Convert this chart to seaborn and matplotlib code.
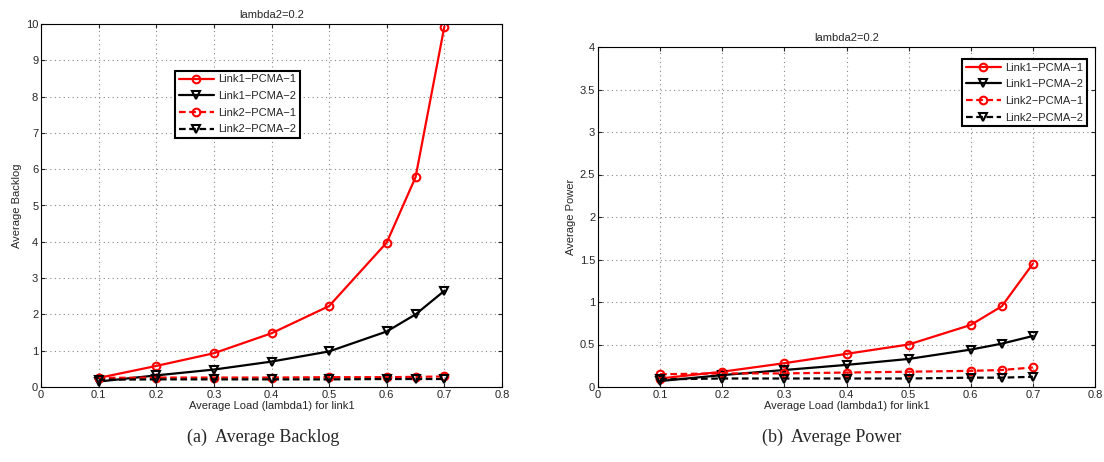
import numpy as np
import pandas as pd
import seaborn as sns
import matplotlib
matplotlib.use("Agg")
import matplotlib.pyplot as plt

# ---- data ----
load = [0.1, 0.2, 0.3, 0.4, 0.5, 0.6, 0.65, 0.7]
series_names = ["Link1\u2212PCMA\u22121", "Link1\u2212PCMA\u22122", "Link2\u2212PCMA\u22121", "Link2\u2212PCMA\u22122"]

backlog_l1_p1 = [0.25, 0.58, 0.93, 1.48, 2.23, 3.98, 5.78, 9.93]
backlog_l1_p2 = [0.15, 0.32, 0.48, 0.70, 0.98, 1.53, 2.00, 2.65]
backlog_l2_p1 = [0.25, 0.26, 0.26, 0.26, 0.27, 0.27, 0.28, 0.29]
backlog_l2_p2 = [0.20, 0.21, 0.21, 0.21, 0.21, 0.22, 0.22, 0.22]

power_l1_p1 = [0.10, 0.18, 0.28, 0.39, 0.50, 0.73, 0.95, 1.45]
power_l1_p2 = [0.07, 0.14, 0.20, 0.26, 0.33, 0.44, 0.51, 0.60]
power_l2_p1 = [0.15, 0.16, 0.16, 0.17, 0.18, 0.19, 0.20, 0.23]
power_l2_p2 = [0.09, 0.10, 0.10, 0.10, 0.10, 0.11, 0.11, 0.12]

xticks = [0, 0.1, 0.2, 0.3, 0.4, 0.5, 0.6, 0.7, 0.8]
xticklabels = ["0", "0.1", "0.2", "0.3", "0.4", "0.5", "0.6", "0.7", "0.8"]
yticks_a = list(range(0, 11))
yticks_b = [0, 0.5, 1, 1.5, 2, 2.5, 3, 3.5, 4]
yticklabels_b = ["0", "0.5", "1", "1.5", "2", "2.5", "3", "3.5", "4"]

sns.set_style("ticks")
plt.rcParams["font.family"] = ["Liberation Sans", "DejaVu Sans"]

styles = [
    dict(color="#ff0000", marker="o", linestyle="-"),
    dict(color="black", marker="v", linestyle="-"),
    dict(color="#ff0000", marker="o", linestyle=(0, (3, 1.6))),
    dict(color="black", marker="v", linestyle=(0, (3, 1.6))),
]

fig = plt.figure(figsize=(11.04, 4.62), dpi=100)
axA = fig.add_axes([41/1104, 1-387/462, (502-41)/1104, (387-24)/462])
axB = fig.add_axes([598/1104, 1-387/462, (1095-598)/1104, (387-47)/462])

FS = 8

def draw(ax, ys, ylim, yticks, yticklabels, ylabel, legend_kw):
    for name, y, st in zip(series_names, ys, styles):
        df = pd.DataFrame({"x": load, "y": y})
        sns.lineplot(data=df, x="x", y="y", ax=ax, color=st["color"],
                     marker=st["marker"], markersize=5.5, markerfacecolor="none",
                     markeredgecolor=st["color"], markeredgewidth=1.5,
                     linewidth=1.6, label=name)
        ax.lines[-1].set_linestyle(st["linestyle"])
    ax.set_xlim(0, 0.8)
    ax.set_ylim(*ylim)
    ax.set_xticks(xticks)
    ax.set_xticklabels(xticklabels)
    ax.set_yticks(yticks)
    ax.set_yticklabels(yticklabels)
    ax.tick_params(direction="in", labelsize=FS, length=3, top=True, right=True, pad=2)
    ax.grid(True, linestyle=(0, (1, 3)), color="#888888", linewidth=0.8)
    for s in ax.spines.values():
        s.set_visible(True)
        s.set_color("black")
        s.set_linewidth(0.8)
    ax.set_xlabel("Average Load (lambda1) for link1", fontsize=FS, labelpad=1)
    ax.set_ylabel(ylabel, fontsize=FS, labelpad=3)
    ax.set_title("lambda2=0.2", fontsize=FS, pad=4)
    leg = ax.legend(fontsize=FS, frameon=True, fancybox=False, framealpha=1,
                    edgecolor="black", handlelength=3.2, handletextpad=0.4,
                    borderpad=0.35, labelspacing=0.6, **legend_kw)
    leg.get_frame().set_linewidth(1.5)

draw(axA, [backlog_l1_p1, backlog_l1_p2, backlog_l2_p1, backlog_l2_p2], (0, 10),
     yticks_a, [str(v) for v in yticks_a], "Average Backlog",
     dict(loc="upper left", bbox_to_anchor=(0.278, 0.887)))
draw(axB, [power_l1_p1, power_l1_p2, power_l2_p1, power_l2_p2], (0, 4),
     yticks_b, yticklabels_b, "Average Power",
     dict(loc="upper right", bbox_to_anchor=(0.996, 0.982)))

fig.text(263/1104, 1-437/462, "(a)  Average Backlog", ha="center", va="center",
         fontsize=13, family=["Liberation Serif", "DejaVu Serif"])
fig.text(832/1104, 1-437/462, "(b)  Average Power", ha="center", va="center",
         fontsize=13, family=["Liberation Serif", "DejaVu Serif"])

fig.savefig("out.png", dpi=100)
